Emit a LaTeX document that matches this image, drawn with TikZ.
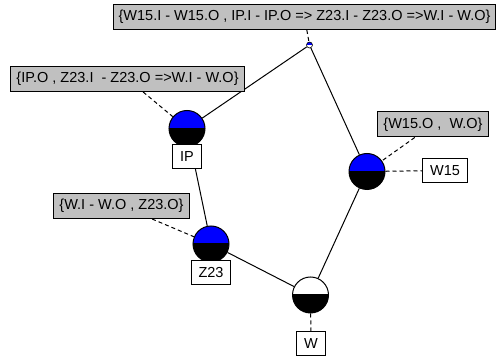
\documentclass[tikz,border=0pt]{standalone}
\usepackage{fontspec}
\setmainfont{Liberation Sans}
\definecolor{lblgray}{RGB}{192,192,192}
\definecolor{nodeblue}{RGB}{0,0,255}
\begin{document}
\begin{tikzpicture}[x=1pt,y=-1pt,
  font=\fontsize{14.5}{16}\selectfont,
  halfnode/.style={circle, draw=black, line width=1pt, minimum size=36pt, inner sep=0pt,
    path picture={
      \fill[#1] (path picture bounding box.west) rectangle (path picture bounding box.north east);
      \fill[black] (path picture bounding box.west) rectangle (path picture bounding box.south east);
      \draw[line width=1pt] (path picture bounding box.west) -- (path picture bounding box.east);
    }},
  rootnode/.style={circle, draw=black, line width=0.6pt, minimum size=6pt, inner sep=0pt,
    path picture={
      \fill[#1] (path picture bounding box.west) rectangle (path picture bounding box.north east);
      \fill[white] (path picture bounding box.west) rectangle (path picture bounding box.south east);
    }},
  setbox/.style={draw=black, line width=1pt, fill=lblgray, minimum height=25pt, inner xsep=5.5pt, inner ysep=2pt},
  namebox/.style={draw=black, line width=1pt, fill=white, minimum height=24pt, inner xsep=7.5pt, inner ysep=2pt},
  edge/.style={draw=black, line width=1pt},
  dashlink/.style={draw=black, line width=1pt, dash pattern=on 4pt off 3pt},
]
\useasboundingbox (0,0) rectangle (501,363);
% circles
\node[rootnode=nodeblue] (root) at (309.5,45) {};
\node[halfnode=nodeblue] (ip) at (187,128.5) {};
\node[halfnode=nodeblue] (z23) at (211,244) {};
\node[halfnode=nodeblue] (w15) at (367,171.5) {};
\node[halfnode=white] (w) at (310.5,295) {};
% solid edges
\draw[edge] (root) -- (ip);
\draw[edge] (root) -- (w15);
\draw[edge] (ip) -- (z23);
\draw[edge] (z23) -- (w);
\draw[edge] (w15) -- (w);
% labels
\node[setbox] (rootset) at (304.5,17) {\{W15.I - W15.O , IP.I - IP.O => Z23.I - Z23.O =>W.I - W.O\}};
\node[setbox] (ipset) at (127.5,79) {\{IP.O , Z23.I \ - Z23.O =>W.I - W.O\}};
\node[setbox] (z23set) at (121.5,206) {\{W.I - W.O , Z23.O\}};
\node[setbox] (w15set) at (433,124.5) {\{W15.O , \ W.O\}};
\node[namebox] (iplbl) at (187,157) {IP};
\node[namebox] (z23lbl) at (211,273) {Z23};
\node[namebox] (w15lbl) at (445,170.5) {W15};
\node[namebox] (wlbl) at (311,344) {W};
% dashed links
\draw[dashlink] (rootset) -- (root);
\draw[dashlink] (ipset) -- (ip);
\draw[dashlink] (z23set) -- (z23);
\draw[dashlink] (w15set) -- (w15);
\draw[dashlink] (w15) -- (w15lbl);
\draw[dashlink] (w) -- (wlbl);
\end{tikzpicture}
\end{document}
